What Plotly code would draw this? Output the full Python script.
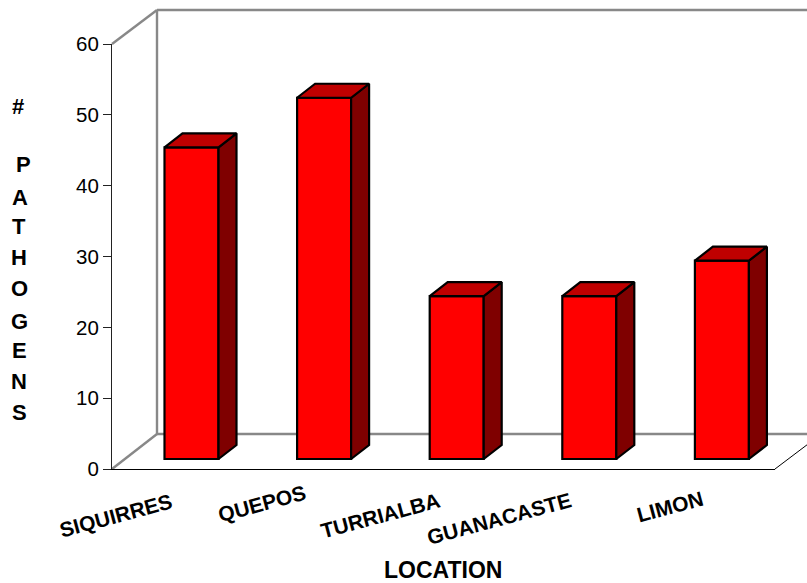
import plotly.graph_objects as go

locations = ["SIQUIRRES", "QUEPOS", "TURRIALBA", "GUANACASTE", "LIMON"]
pathogens = [44, 51, 23, 23, 28]
y_ticks = [0, 10, 20, 30, 40, 50, 60]
y_title_letters = ["#", "P", "A", "T", "H", "O", "G", "E", "N", "S"]

# Page geometry of the plotting box
W, H = 807, 583
LEFT, RIGHT, TOP, BOTTOM = 112, 775, 44, 469
PX_X = (RIGHT - LEFT) / len(locations)
PX_Y = (BOTTOM - TOP) / 60

# Oblique projection: how far the back wall sits from the front plane
WALL_DX, WALL_DY = 45, 34
# Bars stand partway into the floor and have their own depth
BAR_INSET_DX, BAR_INSET_DY = 13.2, 10
BAR_DEPTH_DX, BAR_DEPTH_DY = 18, 14
BAR_WIDTH_PX = 54


def paper_x(px):
    return (px - LEFT) / (RIGHT - LEFT)


def paper_y(py):
    return (BOTTOM - py) / (BOTTOM - TOP)


inset_x = BAR_INSET_DX / PX_X
inset_y = BAR_INSET_DY / PX_Y
depth_x = BAR_DEPTH_DX / PX_X
depth_y = BAR_DEPTH_DY / PX_Y
half = BAR_WIDTH_PX / PX_X / 2

centers = [i + 0.5 + inset_x for i in range(len(locations))]

fig = go.Figure()

# Front faces
fig.add_bar(
    x=centers,
    y=pathogens,
    base=inset_y,
    width=BAR_WIDTH_PX / PX_X,
    marker=dict(color="#ff0000", line=dict(color="#000000", width=2.2)),
    text=locations,
    textposition="none",
    hovertemplate="%{text}: %{y}<extra></extra>",
)

# Side and top faces of every bar
side_x, side_y, top_x, top_y = [], [], [], []
for c, v in zip(centers, pathogens):
    l, r = c - half, c + half
    lo, hi = inset_y, inset_y + v
    side_x += [r, r + depth_x, r + depth_x, r, r, None]
    side_y += [lo, lo + depth_y, hi + depth_y, hi, lo, None]
    top_x += [l, l + depth_x, r + depth_x, r, l, None]
    top_y += [hi, hi + depth_y, hi + depth_y, hi, hi, None]

for xs, ys, colour in ((side_x, side_y, "#7f0000"), (top_x, top_y, "#bf0000")):
    fig.add_scatter(
        x=xs, y=ys, mode="lines", fill="toself", fillcolor=colour,
        line=dict(color="#000000", width=2.2), cliponaxis=False,
        hoverinfo="skip", showlegend=False,
    )

# Gray back walls and floor edges sit behind the bars
wall = dict(color="#888888", width=2.4)
wall_segments = [
    (LEFT, TOP, LEFT + WALL_DX, TOP - WALL_DY),
    (LEFT + WALL_DX, TOP - WALL_DY, W + 2, TOP - WALL_DY),
    (LEFT + WALL_DX, TOP - WALL_DY, LEFT + WALL_DX, BOTTOM - WALL_DY - 1),
    (LEFT + WALL_DX, BOTTOM - WALL_DY - 1, W + 2, BOTTOM - WALL_DY - 1),
    (LEFT, BOTTOM, LEFT + WALL_DX, BOTTOM - WALL_DY - 1),
]
shapes = [
    dict(type="line", xref="paper", yref="paper", layer="below",
         x0=paper_x(a), y0=paper_y(b), x1=paper_x(c), y1=paper_y(d), line=wall)
    for a, b, c, d in wall_segments
]
shapes.append(
    dict(type="line", xref="paper", yref="paper", layer="below",
         x0=paper_x(RIGHT), y0=paper_y(BOTTOM),
         x1=paper_x(RIGHT + WALL_DX), y1=paper_y(BOTTOM - WALL_DY),
         line=dict(color="#000000", width=1))
)

# Category labels are staggered along the floor edge
label_px = [(116, 515), (262, 503), (380, 515), (499, 518), (670, 506)]
annotations = [
    dict(text=f"<b>{name}</b>", xref="paper", yref="paper", x=paper_x(px), y=paper_y(py),
         xanchor="center", yanchor="middle", showarrow=False, textangle=-15,
         font=dict(family="Liberation Sans", size=21, color="#000000"))
    for name, (px, py) in zip(locations, label_px)
]

# Axis titles
annotations.append(
    dict(text="<b>LOCATION</b>", xref="paper", yref="paper",
         x=paper_x(443), y=paper_y(570), xanchor="center", yanchor="middle",
         showarrow=False, font=dict(family="Liberation Sans", size=23, color="#000000"))
)
letter_py = [106, 164, 197, 227, 257, 288, 321, 350, 381, 412]
letter_px = [18, 23, 20, 19, 19, 19, 19, 19, 19, 19]
for letter, px, py in zip(y_title_letters, letter_px, letter_py):
    annotations.append(
        dict(text=f"<b>{letter}</b>", xref="paper", yref="paper",
             x=paper_x(px), y=paper_y(py), xanchor="center", yanchor="middle",
             showarrow=False, font=dict(family="Liberation Sans", size=22, color="#000000"))
    )

fig.update_layout(
    width=W, height=H,
    margin=dict(l=LEFT, r=W - RIGHT, t=TOP, b=H - BOTTOM, pad=0),
    paper_bgcolor="#ffffff", plot_bgcolor="rgba(0,0,0,0)",
    showlegend=False, shapes=shapes, annotations=annotations,
    xaxis=dict(range=[0, len(locations)], showgrid=False, zeroline=False,
               showticklabels=False, ticks="", showline=True,
               linecolor="#000000", linewidth=1, fixedrange=True),
    yaxis=dict(range=[0, 60], tickvals=y_ticks, showgrid=False, zeroline=False,
               ticks="outside", ticklen=8, tickwidth=1, tickcolor="#222222",
               showline=True, linecolor="#222222", linewidth=1, fixedrange=True,
               tickfont=dict(family="Liberation Sans", size=20.5, color="#000000")),
)

fig.write_html("out.html", config=dict(displayModeBar=False))
